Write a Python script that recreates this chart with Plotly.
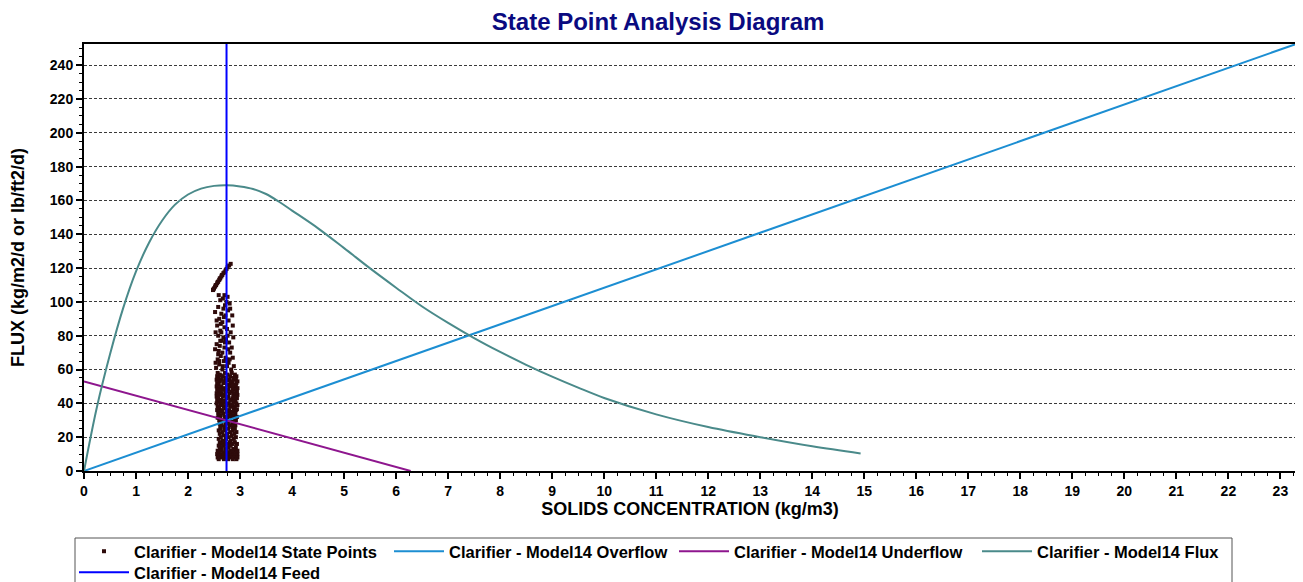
import plotly.graph_objects as go

# ---------------- data ----------------
# Flux curve (solids concentration kg/m3 -> flux)
flux_conc = [0, 0.25, 0.5, 0.75, 1.0, 1.25, 1.5, 1.75, 2.0, 2.25, 2.5, 2.75, 3.0, 3.25,
             3.5, 3.75, 4.0, 4.5, 5.0, 5.5, 6.0, 6.5, 7.0, 7.5, 8.0, 8.5, 9.0, 9.5,
             10, 11, 12, 13, 14, 14.93]
flux_vals = [0, 38, 69, 96, 118, 135, 148, 157.5, 163.5, 167, 168.6, 169, 168.3, 166.8,
             163.8, 159.2, 154, 143.5, 131.8, 119.8, 108.4, 97.3, 87.6, 78.6, 70.4, 62.8, 55.8, 49.3,
             43.2, 33.5, 26, 20, 14.6, 10.4]

overflow_conc = [0, 23.3]
overflow_vals = [0, 252.5]

underflow_conc = [0, 6.28]
underflow_vals = [53, 0]

feed_conc = [2.74, 2.74]
feed_vals = [0, 252.5]

# State points (concentration, flux)
state_points = [
    # diagonal streak
    (2.48, 107), (2.50, 108), (2.52, 109), (2.54, 110), (2.56, 111), (2.58, 112),
    (2.60, 113), (2.62, 114), (2.64, 115), (2.66, 116), (2.68, 117), (2.70, 117.5),
    (2.72, 118.5), (2.74, 119.5), (2.76, 120.5), (2.79, 121.5), (2.82, 122.5),
    (2.49, 107.5), (2.53, 109.8), (2.57, 111.8), (2.61, 113.8), (2.65, 115.8),
    # sparse upper
    (2.70, 104), (2.76, 103), (2.62, 101), (2.74, 100), (2.80, 99), (2.58, 97),
    (2.68, 96), (2.77, 95), (2.64, 93), (2.72, 92), (2.60, 90), (2.78, 89),
    (2.66, 88), (2.56, 86), (2.70, 85), (2.75, 84), (2.62, 83), (2.82, 82),
    (2.58, 80), (2.68, 79), (2.73, 78), (2.65, 77), (2.79, 76), (2.55, 75),
    (2.61, 74), (2.70, 73), (2.77, 72), (2.59, 71), (2.66, 70), (2.81, 70),
    (2.63, 68), (2.72, 67), (2.57, 66), (2.69, 65), (2.78, 64), (2.60, 63),
    (2.75, 62), (2.54, 61), (2.66, 60), (2.83, 60), (2.71, 98), (2.63, 87),
    (2.76, 80), (2.58, 69), (2.74, 66), (2.62, 77), (2.69, 91), (2.84, 73),
    (2.52, 94), (2.85, 92), (2.55, 89), (2.86, 86), (2.53, 82), (2.87, 79),
    (2.52, 72), (2.86, 67), (2.53, 64), (2.88, 62), (2.67, 102), (2.59, 104),
    (2.81, 96), (2.64, 82), (2.71, 76), (2.60, 65), (2.80, 66), (2.67, 62),
    # dense middle band
    (2.57, 58), (2.71, 58), (2.84, 58),
    (2.61, 57), (2.76, 57), (2.90, 57),
    (2.56, 56), (2.67, 56), (2.81, 56), (2.93, 56),
    (2.59, 55), (2.73, 55), (2.87, 55),
    (2.55, 54), (2.65, 54), (2.79, 54), (2.92, 54),
    (2.61, 53), (2.71, 53), (2.85, 53), (2.95, 53),
    (2.56, 52), (2.68, 52), (2.82, 52), (2.93, 52),
    (2.59, 51), (2.75, 51), (2.88, 51),
    (2.55, 50), (2.64, 50), (2.79, 50), (2.92, 50),
    (2.61, 49), (2.71, 49), (2.86, 49), (2.95, 49),
    (2.56, 48), (2.67, 48), (2.77, 48), (2.90, 48),
    (2.59, 47), (2.73, 47), (2.84, 47), (2.94, 47),
    (2.55, 46), (2.65, 46), (2.80, 46), (2.89, 46),
    (2.61, 45), (2.70, 45), (2.87, 45), (2.95, 45),
    (2.55, 44), (2.67, 44), (2.77, 44), (2.92, 44),
    (2.58, 43), (2.74, 43), (2.85, 43), (2.94, 43),
    (2.56, 42), (2.64, 42), (2.81, 42), (2.91, 42),
    (2.60, 41), (2.71, 41), (2.88, 41),
    (2.55, 40), (2.67, 40), (2.78, 40), (2.93, 40),
    (2.62, 39), (2.74, 39), (2.86, 39), (2.95, 39),
    (2.57, 38), (2.69, 38), (2.81, 38), (2.90, 38),
    (2.60, 37), (2.72, 37), (2.88, 37),
    (2.56, 36), (2.65, 36), (2.79, 36), (2.92, 36),
    (2.61, 35), (2.75, 35), (2.86, 35),
    (2.58, 34), (2.68, 34), (2.82, 34), (2.91, 34),
    (2.63, 33), (2.77, 33), (2.88, 33),
    (2.59, 32), (2.71, 32), (2.85, 32), (2.94, 32),
    (2.62, 31), (2.75, 31), (2.90, 31),
    (2.60, 30), (2.69, 30), (2.81, 30), (2.92, 30),
    (2.64, 29), (2.78, 29), (2.88, 29),
    (2.61, 28), (2.73, 28), (2.86, 28),
    (2.65, 27), (2.80, 27), (2.91, 27),
    (2.62, 26), (2.71, 26), (2.85, 26),
    (2.63, 56.5), (2.86, 50.5), (2.58, 45.5), (2.83, 39.5), (2.66, 35.5), (2.89, 43.5),
    (2.62, 47.5), (2.76, 53.5), (2.69, 41.5), (2.94, 36.5), (2.57, 31.5), (2.80, 32.5),
    # lower band
    (2.63, 25), (2.77, 25), (2.90, 25),
    (2.59, 24), (2.71, 24), (2.86, 24),
    (2.66, 23), (2.81, 23), (2.93, 23),
    (2.61, 22), (2.75, 22), (2.89, 22),
    (2.69, 21), (2.84, 21),
    (2.63, 20), (2.78, 20), (2.92, 20),
    (2.59, 19), (2.73, 19), (2.88, 19),
    (2.67, 18), (2.82, 18),
    (2.61, 17), (2.71, 17), (2.80, 17), (2.90, 17),
    (2.64, 16), (2.75, 16), (2.86, 16), (2.94, 16),
    (2.59, 15), (2.69, 15), (2.82, 15),
    (2.65, 14), (2.78, 14), (2.92, 14),
    (2.61, 13), (2.73, 13), (2.87, 13),
    (2.57, 12), (2.65, 12), (2.73, 12), (2.81, 12), (2.89, 12), (2.95, 12),
    (2.59, 11), (2.69, 11), (2.77, 11), (2.85, 11), (2.93, 11),
    (2.56, 10), (2.64, 10), (2.72, 10), (2.80, 10), (2.88, 10), (2.95, 10),
    (2.60, 9), (2.68, 9), (2.76, 9), (2.84, 9), (2.92, 9),
    (2.57, 8), (2.65, 8), (2.73, 8), (2.81, 8), (2.89, 8), (2.95, 8),
    (2.59, 7), (2.69, 7), (2.77, 7), (2.86, 7), (2.93, 7),
]
state_conc = [p[0] for p in state_points]
state_flux = [p[1] for p in state_points]

x_ticks = list(range(0, 24))
y_ticks = list(range(0, 241, 20))

# ---------------- figure ----------------
FONT = "Liberation Sans, Arial, sans-serif"
PLOT_L, PLOT_T, PLOT_W, PLOT_H = 76, 36, 1212, 427   # in figure pixels


def px_x(p):  # figure pixel -> paper x
    return (p - PLOT_L) / PLOT_W


def px_y(p):  # figure pixel -> paper y
    return 1 - (p - PLOT_T) / PLOT_H


fig = go.Figure()

fig.add_trace(go.Scatter(
    x=state_conc, y=state_flux, mode="markers",
    name="<b>Clarifier - Model14 State Points</b>",
    marker=dict(symbol="square", size=4, color="#2e0a0a", line=dict(width=0)),
    legend="legend", legendwidth=250,
))
fig.add_trace(go.Scatter(
    x=overflow_conc, y=overflow_vals, mode="lines",
    name="<b>Clarifier - Model14 Overflow</b>",
    line=dict(color="#1c8ed2", width=2),
    legend="legend", legendwidth=220,
))
fig.add_trace(go.Scatter(
    x=underflow_conc, y=underflow_vals, mode="lines",
    name="<b>Clarifier - Model14 Underflow</b>",
    line=dict(color="#8e168e", width=2),
    legend="legend", legendwidth=238,
))
fig.add_trace(go.Scatter(
    x=flux_conc, y=flux_vals, mode="lines",
    name="<b>Clarifier - Model14 Flux</b>",
    line=dict(color="#4a8a8a", width=2, shape="spline", smoothing=1.0),
    legend="legend",
))
fig.add_trace(go.Scatter(
    x=feed_conc, y=feed_vals, mode="lines",
    name="<b>Clarifier - Model14 Feed</b>",
    line=dict(color="#0000ff", width=2),
    legend="legend2",
))

legend_common = dict(
    orientation="h", xanchor="left", yanchor="top",
    bgcolor="rgba(0,0,0,0)", borderwidth=0,
    font=dict(size=16.5, family=FONT, color="black"),
    traceorder="normal", itemwidth=50,
)

# page body adds an 8px offset, so the figure is sized/positioned to compensate
fig.update_layout(
    width=1295, height=574,
    paper_bgcolor="white", plot_bgcolor="white",
    margin=dict(l=76, r=7, t=36, b=111, autoexpand=False),
    font=dict(family=FONT, color="black"),
    title=dict(
        text="<b>State Point Analysis Diagram</b>",
        x=0.502, xanchor="center", xref="container",
        y=0.977, yanchor="middle", yref="container",
        font=dict(size=24, color="#0a0a80", family=FONT),
    ),
    showlegend=True,
    legend=dict(x=px_x(66), y=px_y(526), **legend_common),
    legend2=dict(x=px_x(66), y=px_y(547), **legend_common),
    shapes=[dict(
        type="rect", xref="paper", yref="paper",
        x0=px_x(67), x1=px_x(1224), y0=px_y(620), y1=px_y(530),
        line=dict(color="#555555", width=1), fillcolor="rgba(0,0,0,0)", layer="below",
    )],
)

fig.update_xaxes(
    range=[0, 23.3],
    tickmode="array", tickvals=x_ticks, ticktext=[f"<b>{v}</b>" for v in x_ticks],
    ticks="outside", ticklen=6, tickwidth=1.5, tickcolor="black",
    tickfont=dict(size=14, family=FONT, color="black"),
    minor=dict(dtick=0.25, tick0=0, ticks="outside", ticklen=3, tickwidth=1, tickcolor="black", showgrid=False),
    showgrid=False, zeroline=False,
    showline=True, linecolor="black", linewidth=2, mirror=True,
    title=dict(text="<b>SOLIDS CONCENTRATION (kg/m3)</b>", font=dict(size=18, family=FONT, color="black"), standoff=5),
    automargin=False,
)
fig.update_yaxes(
    range=[0, 252.5],
    tickmode="array", tickvals=y_ticks, ticktext=[f"<b>{v}</b>" for v in y_ticks],
    ticks="outside", ticklen=6, tickwidth=1.5, tickcolor="black",
    tickfont=dict(size=14, family=FONT, color="black"),
    minor=dict(dtick=5, tick0=0, ticks="outside", ticklen=3, tickwidth=1, tickcolor="black", showgrid=False),
    showgrid=True, gridcolor="#3a3a3a", gridwidth=1, griddash="3px,2px",
    zeroline=False,
    showline=True, linecolor="black", linewidth=2, mirror=True,
    title=dict(text="<b>FLUX (kg/m2/d or lb/ft2/d)</b>", font=dict(size=18, family=FONT, color="black"), standoff=22),
    automargin=False,
)

fig.write_html("out.html")
